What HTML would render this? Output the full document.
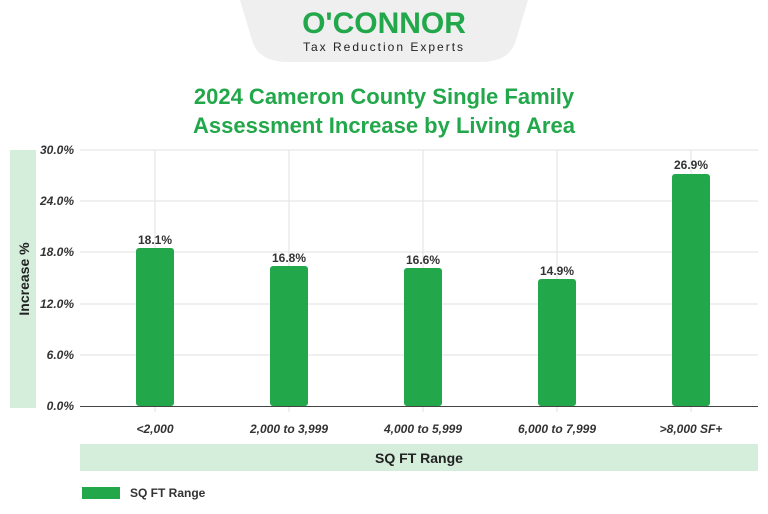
<!DOCTYPE html>
<html><head><style>
body{margin:0;width:768px;height:514px;background:#fff;font-family:"Liberation Sans",sans-serif;position:relative;overflow:hidden}
.a{position:absolute}
</style></head><body>
<svg class="a" style="left:0;top:0" width="768" height="514">
<path d="M240 0 L528 0 L516 40 Q510 62 480 62 L288 62 Q258 62 252 40 Z" fill="#efefef"/>
<text x="384" y="33" text-anchor="middle" font-size="30" font-weight="bold" fill="#22a84a" font-family="Liberation Sans">O'CONNOR</text>
<text x="384" y="51" text-anchor="middle" font-size="12" letter-spacing="2" fill="#222" font-family="Liberation Sans">Tax Reduction Experts</text>
<text x="384" y="104" text-anchor="middle" font-size="22" font-weight="bold" fill="#22a84a" font-family="Liberation Sans">2024 Cameron County Single Family</text>
<text x="384" y="133" text-anchor="middle" font-size="22" font-weight="bold" fill="#22a84a" font-family="Liberation Sans">Assessment Increase by Living Area</text>
<rect x="10" y="150" width="26" height="258" fill="#d4eedb"/>
<text transform="translate(29,279) rotate(-90)" text-anchor="middle" font-size="14" font-weight="bold" fill="#222" font-family="Liberation Sans">Increase %</text>
<g stroke="#e2e2e2" stroke-width="1">
<line x1="80" y1="150" x2="758" y2="150"/><line x1="80" y1="201" x2="758" y2="201"/><line x1="80" y1="252" x2="758" y2="252"/><line x1="80" y1="304" x2="758" y2="304"/><line x1="80" y1="355" x2="758" y2="355"/>
<line x1="155" y1="150" x2="155" y2="412"/><line x1="289" y1="150" x2="289" y2="412"/><line x1="423" y1="150" x2="423" y2="412"/><line x1="557" y1="150" x2="557" y2="412"/><line x1="691" y1="150" x2="691" y2="412"/>
</g>
<line x1="80" y1="406.5" x2="758" y2="406.5" stroke="#444"/>
<g font-size="12" font-style="italic" font-weight="bold" fill="#333" text-anchor="end" font-family="Liberation Sans">
<text x="74" y="154">30.0%</text><text x="74" y="205">24.0%</text><text x="74" y="256">18.0%</text><text x="74" y="308">12.0%</text><text x="74" y="359">6.0%</text><text x="74" y="410">0.0%</text>
</g>
<g fill="#22a84a">
<rect x="136" y="248" width="38" height="158" rx="3"/>
<rect x="270" y="266" width="38" height="140" rx="3"/>
<rect x="404" y="268" width="38" height="138" rx="3"/>
<rect x="538" y="279" width="38" height="127" rx="3"/>
<rect x="672" y="174" width="38" height="232" rx="3"/>
</g>
<g font-size="12" font-weight="bold" fill="#333" text-anchor="middle" font-family="Liberation Sans">
<text x="155" y="244">18.1%</text><text x="289" y="262">16.8%</text><text x="423" y="264">16.6%</text><text x="557" y="275">14.9%</text><text x="691" y="169">26.9%</text>
</g>
<g font-size="12" font-style="italic" font-weight="bold" fill="#333" text-anchor="middle" font-family="Liberation Sans">
<text x="155" y="433">&lt;2,000</text><text x="289" y="433">2,000 to 3,999</text><text x="423" y="433">4,000 to 5,999</text><text x="557" y="433">6,000 to 7,999</text><text x="691" y="433">&gt;8,000 SF+</text>
</g>
<rect x="80" y="444" width="678" height="27" fill="#d4eedb"/>
<text x="419" y="463" text-anchor="middle" font-size="14" font-weight="bold" fill="#222" font-family="Liberation Sans">SQ FT Range</text>
<rect x="82" y="487" width="38" height="12" fill="#22a84a"/>
<text x="130" y="497" font-size="12" font-weight="bold" fill="#333" font-family="Liberation Sans">SQ FT Range</text>
</svg>
</body></html>
